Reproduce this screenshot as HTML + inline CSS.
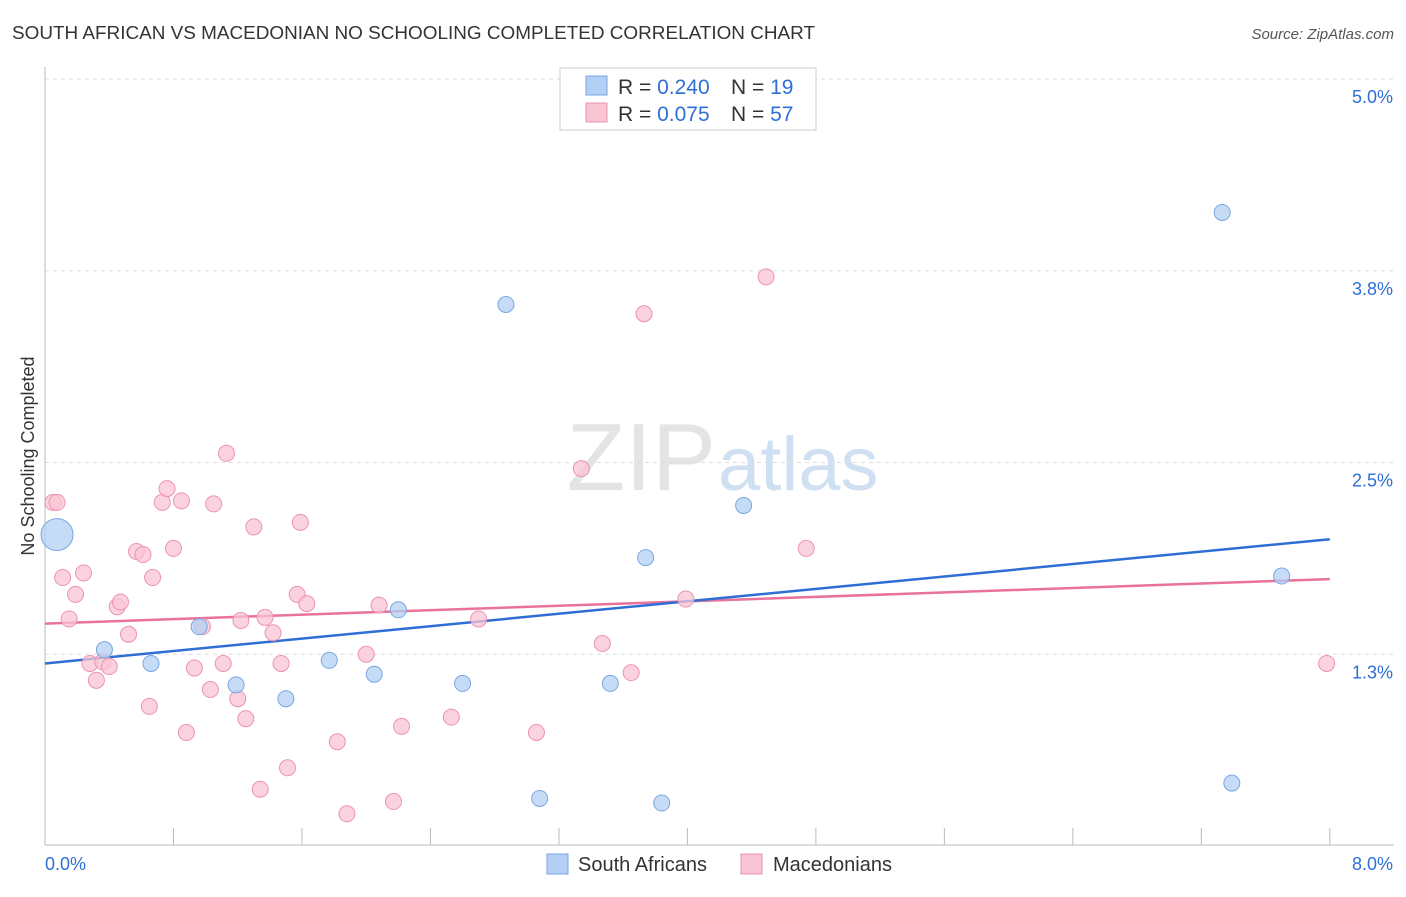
<!DOCTYPE html>
<html><head><meta charset="utf-8">
<style>
body{margin:0;background:#fff;font-family:"Liberation Sans",sans-serif;}
svg text{font-family:"Liberation Sans",sans-serif;}
</style></head>
<body>
<svg id="chart" width="1406" height="892">
<text x="12" y="39" font-size="18" fill="#333" textLength="803" lengthAdjust="spacingAndGlyphs">SOUTH AFRICAN VS MACEDONIAN NO SCHOOLING COMPLETED CORRELATION CHART</text>
<text x="1394" y="39" font-size="15" fill="#555" text-anchor="end" font-style="italic">Source: ZipAtlas.com</text>
<text transform="translate(34,456) rotate(-90)" font-size="18" fill="#333" text-anchor="middle">No Schooling Completed</text>
<text x="716" y="490" font-size="96" fill="#e4e4e4" text-anchor="end" font-family="Liberation Serif">ZIP</text>
<text x="718" y="490" font-size="76" fill="#cfe0f3">atlas</text>
<g id="grid"></g>
<g id="axes"></g>
<g id="lines"></g>
<g id="points"></g>
<g>
<rect x="560" y="68" width="256" height="62" fill="#fff" stroke="#ccc"/>
<rect x="586" y="76" width="21" height="19" fill="#b3cff3" stroke="#7aa7e0"/>
<rect x="586" y="103" width="21" height="19" fill="#f9c4d3" stroke="#ec93b0"/>
<text x="618" y="94" font-size="21" fill="#333">R = <tspan fill="#2e6fd6">0.240</tspan><tspan x="731">N = </tspan><tspan fill="#2e6fd6">19</tspan></text>
<text x="618" y="121" font-size="21" fill="#333">R = <tspan fill="#2e6fd6">0.075</tspan><tspan x="731">N = </tspan><tspan fill="#2e6fd6">57</tspan></text>
</g>
<g>
<rect x="547" y="854" width="21" height="20" fill="#b3cff3" stroke="#7aa7e0"/>
<text x="578" y="871" font-size="20" fill="#333">South Africans</text>
<rect x="741" y="854" width="21" height="20" fill="#f9c4d3" stroke="#ec93b0"/>
<text x="773" y="871" font-size="20" fill="#333">Macedonians</text>
</g>
</svg>
<script>
const yTicks=[5.0,3.75,2.5,1.25];
const yTickLabels=["5.0%","3.8%","2.5%","1.3%"];
const xTickLabels=["0.0%","8.0%"];
const saX=[0.075,0.37,0.66,0.96,1.19,1.50,1.77,2.05,2.20,2.60,2.87,3.08,3.52,3.74,3.84,4.35,7.33,7.39,7.70];
const saY=[2.03,1.28,1.19,1.43,1.05,0.96,1.21,1.12,1.54,1.06,3.53,0.31,1.06,1.88,0.28,2.22,4.13,0.41,1.76];
const saR=[16,8,8,8,8,8,8,8,8,8,8,8,8,8,8,8,8,8,8];
const mkX=[0.05,0.075,0.11,0.15,0.19,0.24,0.28,0.32,0.36,0.40,0.45,0.47,0.52,0.57,0.61,0.65,0.67,0.73,0.76,0.80,0.85,0.88,0.93,0.98,1.03,1.05,1.11,1.13,1.20,1.22,1.25,1.30,1.34,1.37,1.42,1.47,1.51,1.57,1.59,1.63,1.82,1.88,2.00,2.08,2.17,2.22,2.53,2.70,3.06,3.34,3.47,3.65,3.73,3.99,4.49,4.74,7.98];
const mkY=[2.24,2.24,1.75,1.48,1.64,1.78,1.19,1.08,1.20,1.17,1.56,1.59,1.38,1.92,1.90,0.91,1.75,2.24,2.33,1.94,2.25,0.74,1.16,1.43,1.02,2.23,1.19,2.56,0.96,1.47,0.83,2.08,0.37,1.49,1.39,1.19,0.51,1.64,2.11,1.58,0.68,0.21,1.25,1.57,0.29,0.78,0.84,1.48,0.74,2.46,1.32,1.13,3.47,1.61,3.71,1.94,1.19];
const saTrend=[1.19,2.00];
const mkTrend=[1.45,1.74];
const trendX=[0,8];

const NS="http://www.w3.org/2000/svg";
const X=v=>45+v*160.6;
const Y=v=>79+(5-v)*153.4;
function el(tag,attrs,parent){const e=document.createElementNS(NS,tag);for(const k in attrs)e.setAttribute(k,attrs[k]);document.getElementById(parent).appendChild(e);return e;}
yTicks.forEach((t,i)=>{
  const l=el('line',{x1:45,x2:1394,y1:Y(t),y2:Y(t),stroke:'#ddd','stroke-dasharray':'4,4'},'grid');
  
  
  const tx=el('text',{x:1393,y:Y(t)+24,'font-size':18,fill:'#2e6fd6','text-anchor':'end'},'grid');
  tx.textContent=yTickLabels[i];
  
  
});
const ax=el('line',{x1:45,x2:45,y1:67,y2:845,stroke:'#bbb'},'axes');


const bx=el('line',{x1:45,x2:1394,y1:845,y2:845,stroke:'#bbb'},'axes');


for(let i=1;i<=10;i++){
  const t=el('line',{x1:X(i*0.8),x2:X(i*0.8),y1:828,y2:845,stroke:'#bbb'},'axes');
  
  
}
const xl0=el('text',{x:45,y:870,'font-size':18,fill:'#2e6fd6'},'axes');xl0.textContent=xTickLabels[0];


const xl1=el('text',{x:1393,y:870,'font-size':18,fill:'#2e6fd6','text-anchor':'end'},'axes');xl1.textContent=xTickLabels[1];


mkX.forEach((v,i)=>{
  const c=el('circle',{cx:X(v),cy:Y(mkY[i]),r:8,fill:'#f9c4d3','fill-opacity':0.75,stroke:'#ec93b0','stroke-width':1},'points');
  
  
});
saX.forEach((v,i)=>{
  const c=el('circle',{cx:X(v),cy:Y(saY[i]),r:saR[i],fill:'#b3cff3','fill-opacity':0.75,stroke:'#7aa7e0','stroke-width':1},'points');
  
  
});
const l1=el('line',{x1:X(trendX[0]),x2:X(trendX[1]),y1:Y(mkTrend[0]),y2:Y(mkTrend[1]),stroke:'#e8729a','stroke-width':2.5},'lines');


const l2=el('line',{x1:X(trendX[0]),x2:X(trendX[1]),y1:Y(saTrend[0]),y2:Y(saTrend[1]),stroke:'#2e6fd6','stroke-width':2.5},'lines');


</script>
</body></html>
